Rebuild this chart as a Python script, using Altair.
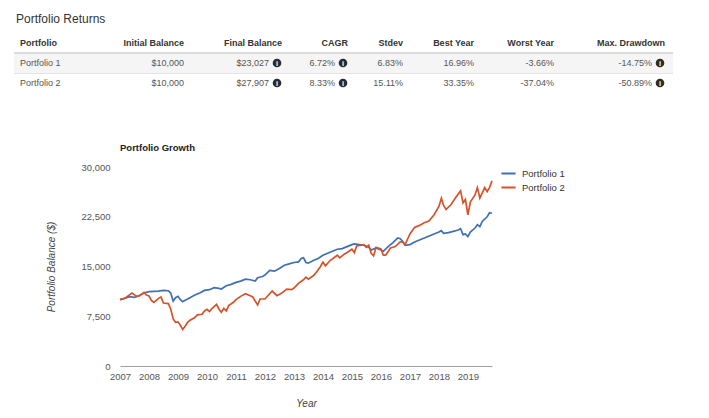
import altair as alt
import pandas as pd

# ---------------- data ----------------
SERIES = ["Portfolio 1", "Portfolio 2"]

P1_DATES = ["2007-01", "2007-03", "2007-05", "2007-07", "2007-09", "2007-11", "2008-01", "2008-03",
            "2008-05", "2008-07", "2008-09", "2008-10", "2008-11", "2008-12", "2009-01", "2009-02",
            "2009-03", "2009-04", "2009-06", "2009-08", "2009-10", "2009-12", "2010-02", "2010-04",
            "2010-06", "2010-07", "2010-09", "2010-11", "2011-01", "2011-03", "2011-05", "2011-07",
            "2011-09", "2011-10", "2011-12", "2012-01", "2012-03", "2012-05", "2012-07", "2012-09",
            "2012-11", "2013-01", "2013-03", "2013-04", "2013-05", "2013-06", "2013-07", "2013-09",
            "2013-11", "2014-01", "2014-03", "2014-05", "2014-07", "2014-09", "2014-11", "2015-01",
            "2015-02", "2015-04", "2015-06", "2015-08", "2015-09", "2015-11", "2016-01", "2016-02",
            "2016-04", "2016-06", "2016-08", "2016-09", "2016-10", "2016-11", "2017-01", "2017-03",
            "2017-05", "2017-07", "2017-09", "2017-11", "2018-01", "2018-02", "2018-03", "2018-05",
            "2018-07", "2018-09", "2018-10", "2018-11", "2018-12", "2019-01", "2019-02", "2019-04",
            "2019-05", "2019-06", "2019-07", "2019-09", "2019-10", "2019-11"]
P1_VALUES = [10000, 10200, 10450, 10350, 10600, 11000, 11200, 11250,
             11300, 11400, 11350, 11000, 9800, 10300, 10500, 10000,
             9700, 9900, 10300, 10700, 11000, 11400, 11500, 11800,
             11700, 11600, 12100, 12300, 12600, 12800, 13100, 13000,
             12800, 13300, 13500, 13700, 14400, 14300, 14700, 15200,
             15400, 15600, 15700, 16200, 16300, 15600, 15500, 15900,
             16200, 16700, 17000, 17300, 17600, 17700, 18000, 18300,
             18400, 18300, 18200, 17900, 17500, 17800, 17500, 17300,
             18000, 18600, 19300, 19200, 18800, 18200, 18300, 18700,
             19000, 19300, 19600, 19900, 20200, 20400, 20000, 20100,
             20300, 20500, 20700, 19800, 19900, 19500, 20200, 20800,
             21300, 21000, 21800, 22500, 23100, 23027]

P2_DATES = ["2007-01", "2007-03", "2007-06", "2007-08", "2007-09", "2007-11", "2007-12", "2008-01",
            "2008-02", "2008-03", "2008-05", "2008-06", "2008-07", "2008-09", "2008-10", "2008-11",
            "2008-12", "2009-01", "2009-02", "2009-03", "2009-04", "2009-05", "2009-06", "2009-08",
            "2009-09", "2009-11", "2009-12", "2010-01", "2010-02", "2010-03", "2010-05", "2010-06",
            "2010-07", "2010-08", "2010-09", "2010-10", "2010-12", "2011-01", "2011-03", "2011-05",
            "2011-07", "2011-08", "2011-10", "2011-11", "2012-01", "2012-04", "2012-06", "2012-08",
            "2012-10", "2012-12", "2013-01", "2013-03", "2013-05", "2013-06", "2013-07", "2013-09",
            "2013-10", "2013-12", "2014-01", "2014-02", "2014-04", "2014-07", "2014-08", "2014-10",
            "2014-11", "2015-01", "2015-02", "2015-03", "2015-06", "2015-07", "2015-08", "2015-09",
            "2015-10", "2015-11", "2016-01", "2016-02", "2016-03", "2016-05", "2016-07", "2016-09",
            "2016-10", "2016-11", "2017-01", "2017-03", "2017-05", "2017-07", "2017-09", "2017-11",
            "2018-01", "2018-02", "2018-03", "2018-04", "2018-06", "2018-08", "2018-10", "2018-11",
            "2018-12", "2019-01", "2019-02", "2019-04", "2019-05", "2019-06", "2019-08", "2019-09",
            "2019-10", "2019-11"]
P2_VALUES = [10000, 10200, 11000, 10500, 10600, 11100, 10700, 10550,
             9900, 9600, 10200, 10400, 9500, 9400, 8600, 7100,
             6600, 6650, 6100, 5500, 6000, 6600, 6900, 7300,
             7700, 7800, 8300, 8550, 8200, 8600, 9300, 8600,
             8100, 8700, 8300, 9100, 9600, 10000, 10500, 10900,
             10600, 10400, 9200, 10100, 10100, 11300, 10600, 11000,
             11600, 11500, 11750, 12500, 13000, 13400, 13100, 13600,
             14000, 15000, 15650, 15100, 15900, 16700, 16300, 16900,
             17100, 17600, 17100, 18100, 18300, 17900, 18200, 17000,
             16600, 17900, 17650, 16700, 16700, 17800, 18000, 18700,
             18700, 18300, 19900, 20900, 21200, 21600, 21900, 22800,
             24050, 25300, 24200, 23600, 24300, 25400, 26400, 24600,
             25100, 22800, 24700, 25800, 26900, 25300, 26900, 26300,
             26900, 27907]

TABLE_TITLE = "Portfolio Returns"
CHART_TITLE = "Portfolio Growth"
TABLE_COLUMNS = ["Portfolio", "Initial Balance", "Final Balance", "CAGR", "Stdev",
                 "Best Year", "Worst Year", "Max. Drawdown"]
ROW_P1 = ["Portfolio 1", "$10,000", "$23,027", "6.72%", "6.83%", "16.96%", "-3.66%", "-14.75%"]
ROW_P2 = ["Portfolio 2", "$10,000", "$27,907", "8.33%", "15.11%", "33.35%", "-37.04%", "-50.89%"]
INFO_COLUMNS = ["Final Balance", "CAGR", "Max. Drawdown"]
Y_TICKS = [0, 7500, 15000, 22500, 30000]
X_YEARS = list(range(2007, 2020))

# ---------------- layout / style ----------------
BLUE = "#3f6fb6"
RED = "#d4532b"
FONT = "Liberation Sans"
PLOT_X0, PLOT_Y0 = 120, 167          # page position of plot area
PLOT_W, PLOT_H = 372, 199
COL_EDGE = [20, 184, 282, 348, 403, 474, 554, 665]   # left edge for 1st col, right edges otherwise
ICON_GAP = 13
ROW_Y = [43, 63, 83]
TABLE_X0, TABLE_X1 = 14, 673

# ---------------- line data ----------------
rows = []
for name, dts, vals in [(SERIES[0], P1_DATES, P1_VALUES), (SERIES[1], P2_DATES, P2_VALUES)]:
    for d, v in zip(dts, vals):
        rows.append({"series": name, "date": d + "-01", "value": v})
line_df = pd.DataFrame(rows)

year_ticks = [alt.DateTime(year=y, month=1, date=1, utc=True) for y in X_YEARS]

line = alt.Chart(line_df).mark_line(strokeWidth=1.7, interpolate="linear").encode(
    x=alt.X("date:T",
            scale=alt.Scale(type="utc", nice=False),
            axis=alt.Axis(title="Year", format="%Y", values=year_ticks, labelOverlap=False,
                          labelFlush=False, grid=False, ticks=False, domainColor="#a0a0a0",
                          labelColor="#555", labelFontSize=9.5, labelPadding=5,
                          titleFontStyle="italic", titleFontWeight="normal", titleFontSize=10,
                          titleColor="#444", titlePadding=18, labelFont=FONT, titleFont=FONT)),
    y=alt.Y("value:Q",
            scale=alt.Scale(domain=[0, 30000], nice=False),
            axis=alt.Axis(title="Portfolio Balance ($)", values=Y_TICKS, format=",.0f",
                          domain=False, ticks=False, gridColor="#d8d8d8", labelColor="#555",
                          labelFontSize=9.5, labelPadding=10, titleFontStyle="italic",
                          titleFontWeight="normal", titleFontSize=10, titleColor="#444",
                          titlePadding=24, labelFont=FONT, titleFont=FONT)),
    color=alt.Color("series:N",
                    scale=alt.Scale(domain=SERIES, range=[BLUE, RED]),
                    legend=alt.Legend(title=None, orient="none", legendX=380, legendY=-2,
                                      symbolType="stroke", symbolStrokeWidth=2, symbolSize=200,
                                      labelFontSize=9.5, labelColor="#333", labelFont=FONT,
                                      rowPadding=1, labelOffset=5)),
)

# ---------------- table (page-pixel layout scales) ----------------
TX = alt.Scale(domain=[0, 709], range=[-PLOT_X0, 709 - PLOT_X0], nice=False, zero=False)
TY = alt.Scale(domain=[0, 418], range=[-PLOT_Y0, 418 - PLOT_Y0], nice=False, zero=False)


def tx(f):
    return alt.X(f, type="quantitative", scale=TX, axis=None)


def ty(f):
    return alt.Y(f, type="quantitative", scale=TY, axis=None)


bg_df = pd.DataFrame([{"x": TABLE_X0, "x2": TABLE_X1, "y": 54, "y2": 73}])
bg = alt.Chart(bg_df).mark_rect(color="#f5f5f5").encode(
    x=tx("x"), x2="x2", y=ty("y"), y2="y2")

rule_df = pd.DataFrame([
    {"x": TABLE_X0, "x2": TABLE_X1, "y": 53, "w": 2, "c": "#dcdcdc"},
    {"x": TABLE_X0, "x2": TABLE_X1, "y": 73.5, "w": 1, "c": "#e4e4e4"},
])
rules = alt.Chart(rule_df).mark_rule().encode(
    x=tx("x"), x2="x2", y=ty("y"),
    strokeWidth=alt.StrokeWidth("w:Q", scale=None),
    color=alt.Color("c:N", scale=None))

titles_df = pd.DataFrame([{"x": 16, "y": 19, "t": TABLE_TITLE}])
title_layer = alt.Chart(titles_df).mark_text(align="left", baseline="middle", font=FONT,
                                              fontSize=12, color="#333").encode(
    x=tx("x"), y=ty("y"), text="t:N")

growth_df = pd.DataFrame([{"x": PLOT_X0, "y": 148, "t": CHART_TITLE}])
growth_title = alt.Chart(growth_df).mark_text(align="left", baseline="middle", font=FONT,
                                               fontSize=9.5, fontWeight="bold", color="#222").encode(
    x=tx("x"), y=ty("y"), text="t:N")

cells = []
for ri, row in enumerate([TABLE_COLUMNS, ROW_P1, ROW_P2]):
    for ci, val in enumerate(row):
        col = TABLE_COLUMNS[ci]
        edge = COL_EDGE[ci]
        if ri > 0 and col in INFO_COLUMNS:
            edge = edge - ICON_GAP
        cells.append({"x": edge, "y": ROW_Y[ri], "t": val, "hdr": ri == 0, "left": ci == 0})
cell_df = pd.DataFrame(cells)


def text_layer(hdr, left):
    d = cell_df[(cell_df.hdr == hdr) & (cell_df.left == left)]
    return alt.Chart(d).mark_text(
        align="left" if left else "right", baseline="middle", font=FONT, fontSize=9,
        fontWeight="bold" if hdr else "normal", color="#333" if hdr else "#555").encode(
        x=tx("x"), y=ty("y"), text="t:N")


icons = []
for col in INFO_COLUMNS:
    ci = TABLE_COLUMNS.index(col)
    for ri in (1, 2):
        icons.append({"x": COL_EDGE[ci] - 5, "y": ROW_Y[ri], "t": "i"})
icon_df = pd.DataFrame(icons)
icon_dots = alt.Chart(icon_df).mark_point(filled=True, shape="circle", size=75, color="#2b2b2b",
                                          opacity=1).encode(x=tx("x"), y=ty("y"))
icon_txt = alt.Chart(icon_df).mark_text(font=FONT, fontSize=7.5, fontWeight="bold",
                                        color="white", baseline="middle", dy=0.5).encode(
    x=tx("x"), y=ty("y"), text="t:N")

layers = [bg, rules, title_layer, growth_title,
          text_layer(True, True), text_layer(True, False),
          text_layer(False, True), text_layer(False, False),
          icon_dots, icon_txt, line]

chart = alt.layer(*layers).resolve_scale(
    x="independent", y="independent", color="independent", strokeWidth="independent"
).properties(
    width=PLOT_W, height=PLOT_H,
    background="white",
    autosize=alt.AutoSizeParams(type="none"),
    padding={"left": PLOT_X0 - 8, "top": PLOT_Y0 - 8, "right": 196, "bottom": 42},
).configure_view(strokeWidth=0, stroke=None)

chart.save("out.html", embed_options={"renderer": "svg", "actions": False})
